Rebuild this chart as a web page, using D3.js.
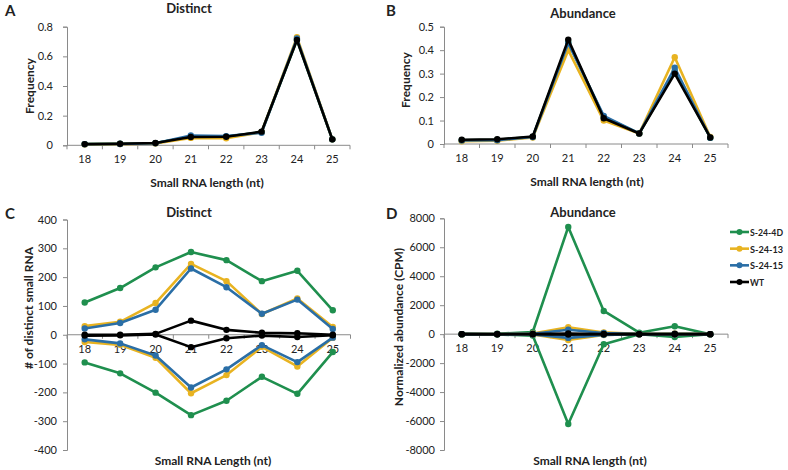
<!DOCTYPE html>
<html>
<head>
<meta charset="utf-8">
<script src="https://cdn.jsdelivr.net/npm/d3@7"></script>
<style>
  body { margin: 0; background: #fff; }
  svg { display: block; font-family: Lato, "Open Sans", sans-serif; }
</style>
</head>
<body>
<svg id="chart" width="788" height="470"></svg>
<script>
// ---------- data ----------
const lengths = [18, 19, 20, 21, 22, 23, 24, 25];
const seriesNames = ["S-24-4D", "S-24-13", "S-24-15", "WT"];
const seriesColors = ["#1f8f4e", "#e8b321", "#2a6ea6", "#000000"];

// A: distinct frequency
const distinctFreq_S24_4D = [0.008, 0.010, 0.015, 0.058, 0.058, 0.090, 0.710, 0.040];
const distinctFreq_S24_13 = [0.006, 0.008, 0.012, 0.050, 0.048, 0.088, 0.730, 0.040];
const distinctFreq_S24_15 = [0.007, 0.009, 0.014, 0.066, 0.062, 0.085, 0.720, 0.040];
const distinctFreq_WT     = [0.008, 0.010, 0.016, 0.056, 0.058, 0.092, 0.710, 0.040];

// B: abundance frequency
const abundFreq_S24_4D = [0.016, 0.018, 0.030, 0.435, 0.115, 0.045, 0.310, 0.027];
const abundFreq_S24_13 = [0.012, 0.014, 0.028, 0.400, 0.100, 0.045, 0.370, 0.030];
const abundFreq_S24_15 = [0.015, 0.016, 0.030, 0.430, 0.120, 0.045, 0.325, 0.027];
const abundFreq_WT     = [0.018, 0.020, 0.032, 0.445, 0.110, 0.045, 0.300, 0.028];

// C: # distinct small RNA (up / down)
const distinctUp_S24_4D   = [112, 162, 234, 287, 259, 186, 222, 85];
const distinctDown_S24_4D = [-96, -134, -201, -279, -229, -146, -205, -60];
const distinctUp_S24_13   = [30, 45, 110, 246, 186, 72, 126, 27];
const distinctDown_S24_13 = [-25, -35, -80, -203, -140, -42, -110, -10];
const distinctUp_S24_15   = [22, 41, 87, 230, 165, 73, 122, 20];
const distinctDown_S24_15 = [-16, -30, -72, -183, -120, -36, -95, -10];
const distinctUp_WT       = [0, 0, 3, 49, 17, 7, 5, 0];
const distinctDown_WT     = [-3, -2, 1, -43, -12, -3, -8, -2];

// D: normalized abundance (CPM) (up / down)
const abundUp_S24_4D   = [0, 30, 150, 7400, 1600, 100, 550, 0];
const abundDown_S24_4D = [0, -20, -100, -6200, -700, 0, -200, -10];
const abundUp_S24_13   = [0, 10, 40, 480, 120, 10, 40, 0];
const abundDown_S24_13 = [0, -10, -30, -400, -60, -5, -30, 0];
const abundUp_S24_15   = [0, 10, 30, 300, 80, 10, 30, 0];
const abundDown_S24_15 = [0, -10, -20, -260, -50, -5, -20, 0];
const abundUp_WT       = [0, 5, 10, 40, 10, 0, 10, 0];
const abundDown_WT     = [0, -5, -10, -30, -10, 0, -10, 0];

const yTicksA = [0, 0.2, 0.4, 0.6, 0.8];
const yTicksB = [0, 0.1, 0.2, 0.3, 0.4, 0.5];
const yTicksC = [-400, -300, -200, -100, 0, 100, 200, 300, 400];
const yTicksD = [-8000, -6000, -4000, -2000, 0, 2000, 4000, 6000, 8000];

// ---------- drawing ----------
const svg = d3.select("#chart");
const axisColor = "#8a8a8a";
const textColor = "#222";

function panel(cfg) {
  const g = svg.append("g");
  const x = d3.scaleBand().domain(lengths).range([cfg.x0, cfg.x1]);
  const y = d3.scaleLinear().domain(cfg.domain).range([cfg.yBottom, cfg.yTop]);
  const y0 = y(0);

  // y axis
  const yAxis = d3.axisLeft(y).tickValues(cfg.yTicks).tickSize(4).tickPadding(cfg.yPad)
    .tickFormat(d => d3.format(cfg.fmt)(d).replace("−", "-"));
  const ya = g.append("g").attr("transform", `translate(${cfg.x0},0)`).call(yAxis);
  ya.select(".domain").attr("stroke", axisColor);
  ya.selectAll(".tick line").attr("stroke", axisColor);
  ya.selectAll("text").attr("fill", textColor).style("font-size", "11px")
    .style("font-family", "Lato, 'Open Sans', sans-serif");

  // x axis line at zero with ticks at band boundaries
  g.append("line").attr("x1", cfg.x0).attr("x2", cfg.x1).attr("y1", y0).attr("y2", y0)
    .attr("stroke", axisColor);
  const bounds = lengths.map(d => x(d)).concat([cfg.x1]);
  g.selectAll(".xt").data(bounds).join("line").attr("class", "xt")
    .attr("x1", d => d).attr("x2", d => d).attr("y1", y0).attr("y2", y0 + 4)
    .attr("stroke", axisColor);
  g.selectAll(".xl").data(lengths).join("text").attr("class", "xl")
    .attr("x", d => x(d) + x.bandwidth() / 2).attr("y", y0 + 18)
    .attr("text-anchor", "middle").attr("fill", textColor).style("font-size", "11px")
    .text(d => d);

  const line = d3.line().x((d, i) => x(lengths[i]) + x.bandwidth() / 2).y(d => y(d));
  cfg.series.forEach(s => {
    s.vals.forEach(vals => {
      g.append("path").datum(vals).attr("d", line).attr("fill", "none")
        .attr("stroke", s.color).attr("stroke-width", 2.6).attr("stroke-linejoin", "round");
      g.append("g").selectAll("circle").data(vals).join("circle")
        .attr("cx", (d, i) => x(lengths[i]) + x.bandwidth() / 2).attr("cy", d => y(d))
        .attr("r", 3.2).attr("fill", s.color);
    });
  });

  // titles
  const t = svg.append("g");
  t.append("text").attr("x", cfg.titleX).attr("y", cfg.titleY).attr("text-anchor", "middle")
    .attr("fill", textColor).style("font-size", "13px").style("font-weight", "bold").text(cfg.title);
  t.append("text").attr("x", cfg.letterX).attr("y", cfg.letterY)
    .attr("fill", textColor).style("font-size", "15px").style("font-weight", "bold").text(cfg.letter);
  t.append("text").attr("x", cfg.xLabelX).attr("y", cfg.xLabelY).attr("text-anchor", "middle")
    .attr("fill", textColor).style("font-size", "12px").style("font-weight", "bold").text(cfg.xLabel);
  t.append("text").attr("x", 0).attr("y", 0)
    .attr("transform", "translate(" + cfg.yLabelX + "," + cfg.yLabelY + ") rotate(-90)")
    .attr("text-anchor", "middle").attr("fill", textColor)
    .style("font-size", "12px").style("font-weight", "bold").text(cfg.yLabel);
}

panel({
  letter: "A", letterX: 5, letterY: 16, title: "Distinct", titleX: 189, titleY: 13,
  x0: 67, x1: 350, domain: [0, 0.8], yTop: 26.7, yBottom: 145.3, yTicks: yTicksA, fmt: ".1~f", yPad: 10,
  xLabel: "Small RNA length (nt)", xLabelX: 207, xLabelY: 187,
  yLabel: "Frequency", yLabelX: 34, yLabelY: 86,
  series: [
    { color: seriesColors[0], vals: [distinctFreq_S24_4D] },
    { color: seriesColors[1], vals: [distinctFreq_S24_13] },
    { color: seriesColors[2], vals: [distinctFreq_S24_15] },
    { color: seriesColors[3], vals: [distinctFreq_WT] }
  ]
});

panel({
  letter: "B", letterX: 386, letterY: 16, title: "Abundance", titleX: 583, titleY: 18,
  x0: 444, x1: 728, domain: [0, 0.5], yTop: 26.7, yBottom: 144, yTicks: yTicksB, fmt: ".1~f", yPad: 6,
  xLabel: "Small RNA length (nt)", xLabelX: 587, xLabelY: 186,
  yLabel: "Frequency", yLabelX: 410, yLabelY: 80,
  series: [
    { color: seriesColors[0], vals: [abundFreq_S24_4D] },
    { color: seriesColors[1], vals: [abundFreq_S24_13] },
    { color: seriesColors[2], vals: [abundFreq_S24_15] },
    { color: seriesColors[3], vals: [abundFreq_WT] }
  ]
});

panel({
  letter: "C", letterX: 5, letterY: 219, title: "Distinct", titleX: 189, titleY: 217,
  x0: 67, x1: 350.5, domain: [-400, 400], yTop: 219.5, yBottom: 450, yTicks: yTicksC, fmt: "d", yPad: 6,
  xLabel: "Small RNA Length (nt)", xLabelX: 213, xLabelY: 465,
  yLabel: "# of distinct small RNA", yLabelX: 33, yLabelY: 308,
  series: [
    { color: seriesColors[0], vals: [distinctUp_S24_4D, distinctDown_S24_4D] },
    { color: seriesColors[1], vals: [distinctUp_S24_13, distinctDown_S24_13] },
    { color: seriesColors[2], vals: [distinctUp_S24_15, distinctDown_S24_15] },
    { color: seriesColors[3], vals: [distinctUp_WT, distinctDown_WT] }
  ]
});

panel({
  letter: "D", letterX: 386, letterY: 219, title: "Abundance", titleX: 583, titleY: 217,
  x0: 444, x1: 728, domain: [-8000, 8000], yTop: 218.3, yBottom: 450, yTicks: yTicksD, fmt: "d", yPad: 5,
  xLabel: "Small RNA length (nt)", xLabelX: 590, xLabelY: 465,
  yLabel: "Normalized abundance (CPM)", yLabelX: 403, yLabelY: 327,
  series: [
    { color: seriesColors[0], vals: [abundUp_S24_4D, abundDown_S24_4D] },
    { color: seriesColors[1], vals: [abundUp_S24_13, abundDown_S24_13] },
    { color: seriesColors[2], vals: [abundUp_S24_15, abundDown_S24_15] },
    { color: seriesColors[3], vals: [abundUp_WT, abundDown_WT] }
  ]
});

// legend
const legend = svg.append("g");
const ly = d3.scalePoint().domain(seriesNames).range([232, 282]);
seriesNames.forEach((n, i) => {
  const yy = ly(n);
  legend.append("line").attr("x1", 730).attr("x2", 749).attr("y1", yy).attr("y2", yy)
    .attr("stroke", seriesColors[i]).attr("stroke-width", 2.6);
  legend.append("circle").attr("cx", 739.5).attr("cy", yy).attr("r", 3).attr("fill", seriesColors[i]);
  const tx = legend.append("text").attr("x", 750).attr("y", yy + 4).attr("fill", textColor)
    .style("font-size", "10px").style("font-weight", "bold").text(n);
  const w = tx.node().getComputedTextLength();
  const maxW = n === "WT" ? 14 : 33;
  if (w > maxW) tx.attr("textLength", maxW).attr("lengthAdjust", "spacingAndGlyphs");
});
</script>
</body>
</html>
